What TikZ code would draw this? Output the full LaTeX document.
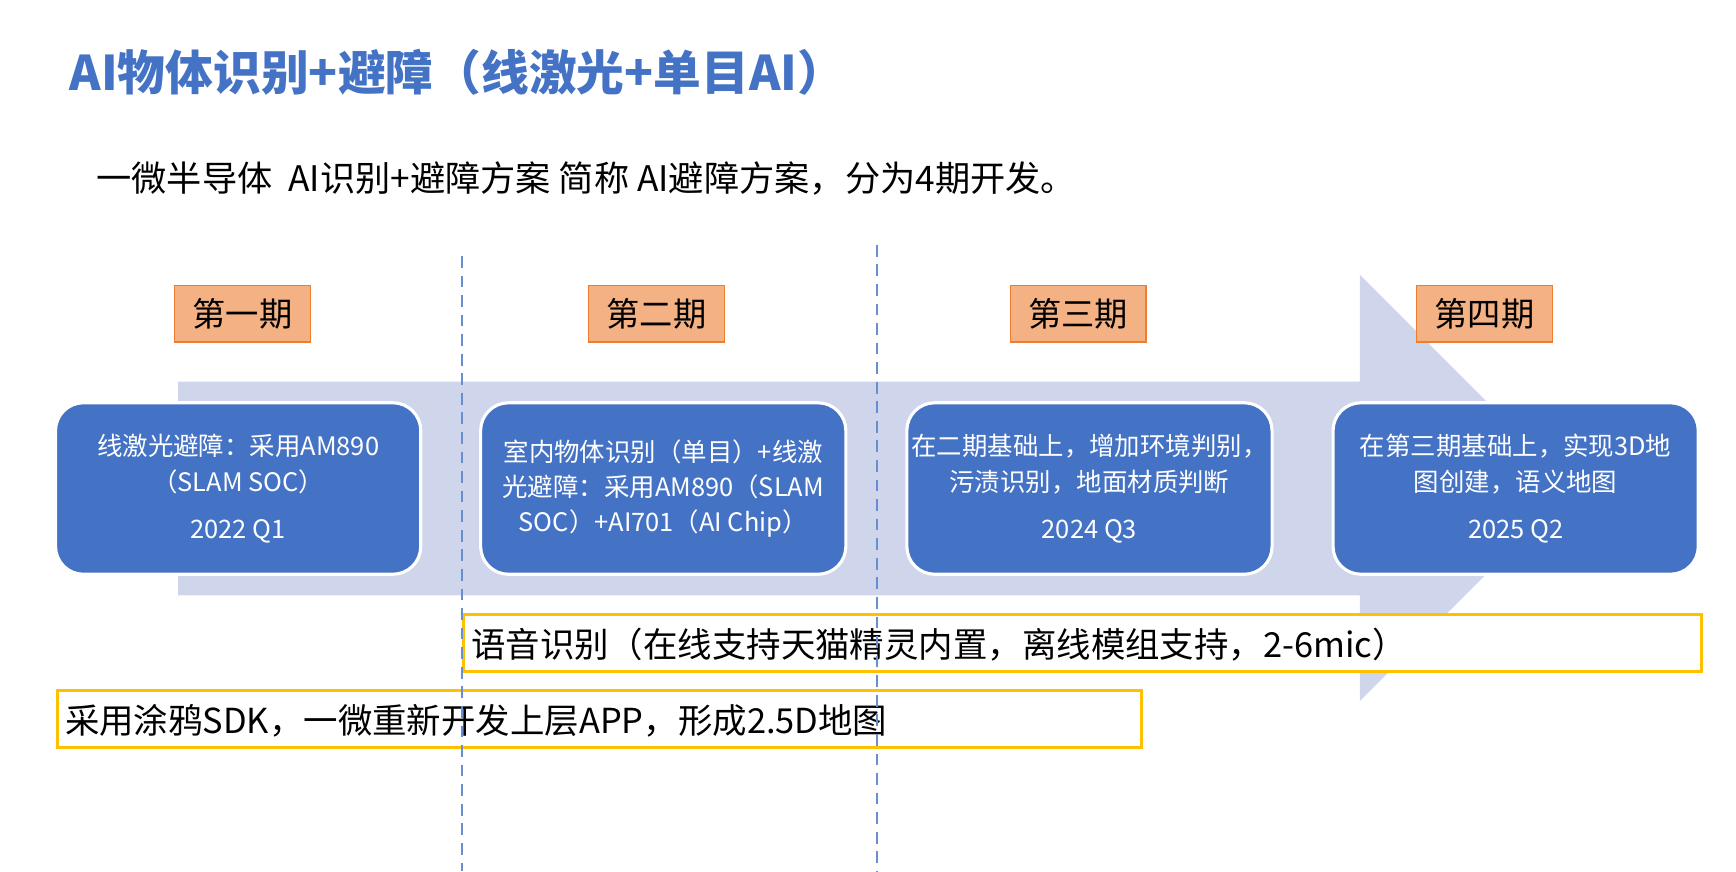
\documentclass[tikz,border=0pt]{standalone}
\usepackage{fontspec}
\setmainfont{Noto Sans CJK SC}
\usetikzlibrary{positioning}
\definecolor{titleblue}{HTML}{4472C4}
\definecolor{arrowblue}{HTML}{CFD5EA}
\definecolor{phasefill}{HTML}{F4B183}
\definecolor{phaseline}{HTML}{ED7D31}
\definecolor{noteline}{HTML}{FFC000}
\tikzset{stage/.style={rectangle,rounded corners=0.25cm,fill=titleblue,draw=white,thick,text=white,
    minimum width=3.28cm,minimum height=1.54cm,align=center,font=\fontsize{6.5}{9}\selectfont,inner sep=0pt}}

\begin{document}
\begin{tikzpicture}[x=0.01cm,y=-0.01cm,
    phase/.style={rectangle,fill=phasefill,draw=phaseline,minimum width=1.22cm,minimum height=0.51cm,font=\fontsize{8.5}{10}\selectfont,inner sep=0pt},
    note/.style={rectangle,draw=noteline,thick,fill=white,minimum height=0.51cm,anchor=north west,font=\fontsize{8.8}{10}\selectfont,inner sep=0pt,text depth=0pt},
    divider/.style={titleblue!80,densely dashed,thin}]
    \useasboundingbox (0,0) rectangle (1560,783);
    % timeline arrow
    \fill[arrowblue] (160,343) -- (1222,343) -- (1222,247) -- (1413,438) -- (1222,630) -- (1222,535) -- (160,535) -- cycle;
    % headings
    \node[anchor=west,font=\fontsize{12.2}{14}\selectfont\bfseries,text=titleblue,inner sep=0pt] (title) at (62,65) {AI物体识别+避障（线激光+单目AI）};
    \node[anchor=west,font=\fontsize{9}{11}\selectfont,inner sep=0pt] (intro) at (86,160) {一微半导体\ \ AI识别+避障方案 简称 AI避障方案，分为4期开发。};
    % phases
    \node[phase] (p1) at (218,282) {第一期};
    \node[phase] (p2) at (590,282) {第二期};
    \node[phase] (p3) at (969,282) {第三期};
    \node[phase] (p4) at (1334,282) {第四期};
    \node[stage] (s1) at (214,439) {线激光避障：采用AM890\\（SLAM SOC）\\[3pt]2022 Q1};
    \node[stage] (s2) at (596,439) {室内物体识别（单目）+线激\\光避障：采用AM890（SLAM\\SOC）+AI701（AI Chip）};
    \node[stage] (s3) at (979,439) {在二期基础上，增加环境判别，\\污渍识别，地面材质判断\\[3pt]2024 Q3};
    \node[stage] (s4) at (1362,439) {在第三期基础上，实现3D地\\图创建，语义地图\\[3pt]2025 Q2};
    % cross-phase work
    \node[note,minimum width=11.12cm,text width=10.98cm] (voice) at (415,551) {语音识别（在线支持天猫精灵内置，离线模组支持，2-6mic）};
    \node[note,minimum width=9.74cm,text width=9.6cm] (app) at (50,619) {采用涂鸦SDK，一微重新开发上层APP，形成2.5D地图};
    \coordinate (d1t) at (415,230);
    \coordinate (d1b) at (415,783);
    \coordinate (d2t) at (788,220);
    \coordinate (d2b) at (788,783);
    \draw[divider] (d1t) -- (d1b);
    \draw[divider] (d2t) -- (d2b);
\end{tikzpicture}
\end{document}
